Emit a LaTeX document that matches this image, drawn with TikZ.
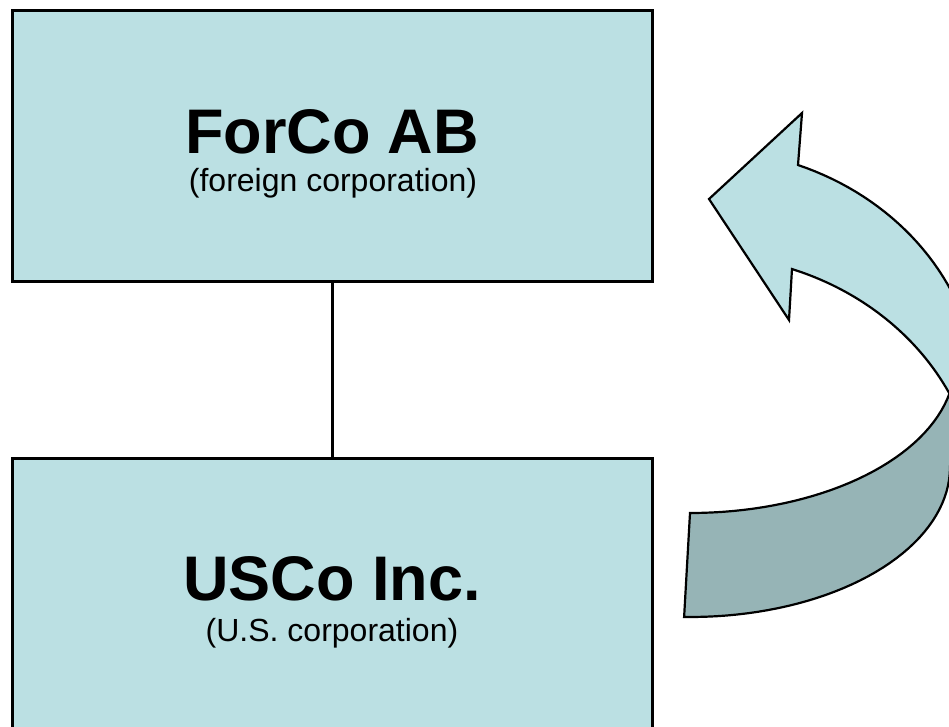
\documentclass[tikz,border=0pt]{standalone}
\usepackage{fontspec}
\setmainfont{Liberation Sans}
\usepackage{tikz}

\definecolor{boxfill}{RGB}{187,224,227}
\definecolor{backfill}{RGB}{150,180,182}

\begin{document}
\begin{tikzpicture}[x=1pt, y=-1pt,
    corpbox/.style={draw, line width=3pt, fill=boxfill,
        minimum width=640pt, minimum height=271pt, inner sep=0pt},
    corpname/.style={anchor=base, font=\bfseries\fontsize{63}{70}\selectfont},
    corptype/.style={anchor=base, font=\fontsize{32}{36}\selectfont},
    band/.style={draw, line width=2.2pt}
]

% Frame of the picture
\useasboundingbox (0,0) rectangle (949,726);
\clip (0,0) rectangle (949,726);

% Companies
\node[corpbox] (forco) at (332,146) {};
\node[corpbox] (usco) at (332,594) {};

% Ownership line
\draw[line width=3pt] (forco.south) -- (usco.north);

% Labels
\node[corpname] (forconame) at (332,153) {ForCo AB};
\node[corptype] (forcotype) at (333,191) {(foreign corporation)};
\node[corpname] (usconame) at (332,600) {USCo Inc.};
\node[corptype] (uscotype) at (332,641) {(U.S. corporation)};

% Curved arrow, front band with the head
\filldraw[band, fill=boxfill] (709,199) -- (802,113) -- (798,165)
  -- plot[domain=-69.43:5, samples=40] ({700+279*cos(\x)},{400+251*sin(\x)})
  -- plot[domain=-22:-70.75, samples=40] ({700+279*cos(\x)},{506+251*sin(\x)})
  -- (789,320) -- cycle;

% Curved arrow, back band with the tail
\filldraw[band, fill=backfill]
  plot[domain=90:0, samples=40] ({690+265*cos(\x)},{363+150*sin(\x)})
  -- plot[domain=0:91.3, samples=40] ({690+260*cos(\x)},{467+150*sin(\x)})
  -- cycle;

\end{tikzpicture}
\end{document}
